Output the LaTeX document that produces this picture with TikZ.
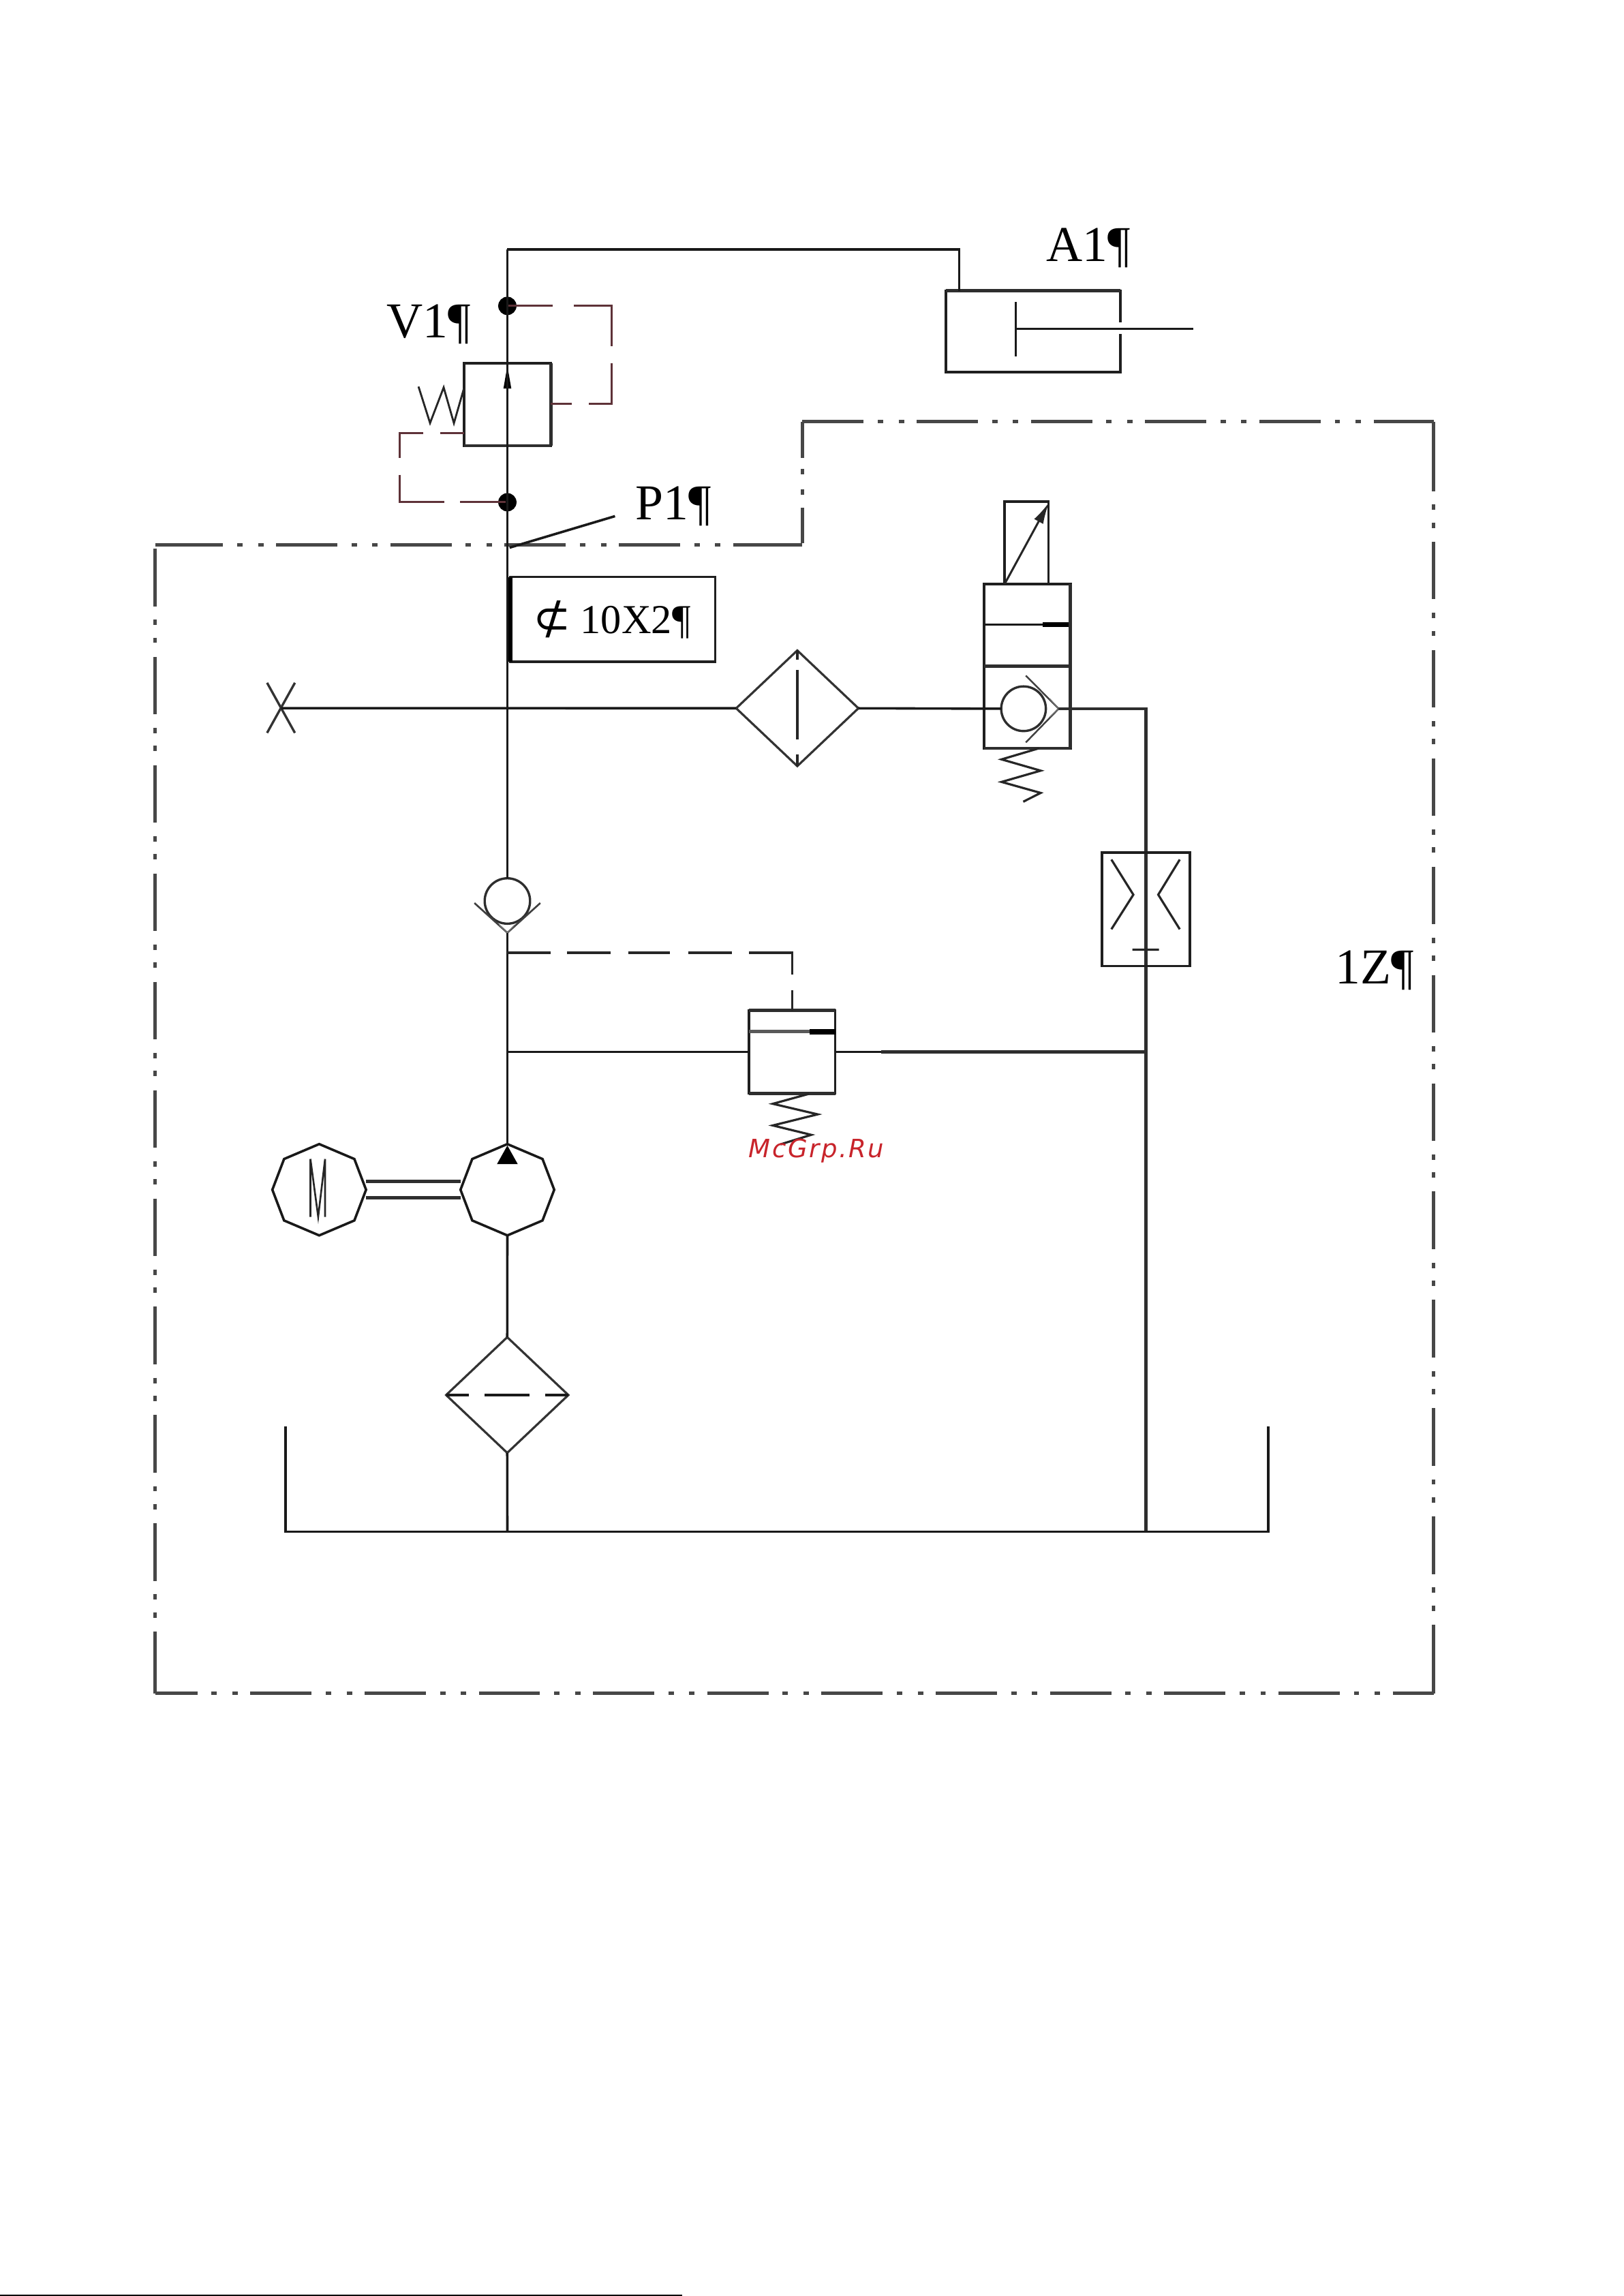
\documentclass[tikz,border=0pt]{standalone}
\usepackage{fontspec}
\setmainfont{Liberation Serif}
\newfontfamily\symfont{DejaVu Sans}
\newfontfamily\wmfont[LetterSpace=7]{DejaVu Sans}
\usetikzlibrary{shapes.geometric,arrows.meta}
\definecolor{pilot}{HTML}{5E3238}
\definecolor{wmred}{HTML}{C8242B}
\tikzset{
  ln/.style={line width=.95pt,color=black!90,line join=miter},
  hv/.style={line width=1.25pt,color=black!82},
  thin ln/.style={line width=.75pt,color=black!85},
  bord/.style={line width=1.35pt,color=black!72},
  bx/.style={rectangle,draw=black!88,line width=1pt,inner sep=0pt,outer sep=0pt},
  filt/.style={diamond,draw=black!80,line width=.85pt,inner sep=0pt,outer sep=0pt,minimum width=1.67cm,minimum height=1.58cm},
  ball/.style={circle,draw=black!82,line width=.9pt,inner sep=0pt,outer sep=0pt,fill=white},
  lab/.style={anchor=base west,inner sep=0pt,outer sep=0pt,font=\fontsize{19.5}{22}\selectfont,text=black},
  jn/.style={circle,fill=black,inner sep=0pt,outer sep=0pt,minimum size=.25cm},
  octa/.pic={\draw[ln] (0,-31.2) -- (24,-21) -- (32,0) -- (24,21) -- (0,31.2) -- (-24,21) -- (-32,0) -- (-24,-21) -- cycle;}
}
\begin{document}
\begin{tikzpicture}[x=.02cm,y=-.02cm]
\useasboundingbox (0,0) rectangle (1109,1568);
\fill[white] (0,0) rectangle (1109,1568);
% page artefact
\coordinate (pgL) at (0,1567.4); \coordinate (pgR) at (466,1567.4);
\draw[line width=.5pt,black] (pgL) -- (pgR);
% enclosure 1Z
\coordinate (e1) at (106,372); \coordinate (e2) at (548,372); \coordinate (e3) at (548,288);
\coordinate (e4) at (979,288); \coordinate (e5) at (979,1156.5); \coordinate (e6) at (106,1156.5);
\coordinate (e2b) at (501,372); \coordinate (e4b) at (979,296); \coordinate (e5b) at (979,1147); \coordinate (e6b) at (106,1152); \coordinate (e1b) at (110.6,372);
\draw[bord,dash pattern=on 23.8pt off 5.5pt on 2.1pt off 6pt on 2.1pt off 4.9pt,dash phase=41.8pt] (e1) -- (e2);
\draw[bord] (e1) -- (e1b) (e2b) -- (e2);
\draw[bord,dash pattern=on 14pt off 4.3pt on 2.1pt off 5.8pt on 2.1pt off 5pt on 14pt off 40pt] (e3) -- (e2);
\draw[bord,dash pattern=on 23.8pt off 5.5pt on 2.1pt off 6pt on 2.1pt off 4.9pt] (e3) -- (e4);
\draw[bord,dash pattern=on 22.4pt off 5.2pt on 2.1pt off 4.9pt on 2.1pt off 5.4pt] (e4b) -- (e5);
\draw[bord] (e4) -- (e4b) (e5b) -- (e5);
\draw[bord,dash pattern=on 23.8pt off 5.5pt on 2.1pt off 6pt on 2.1pt off 4.9pt,dash phase=7.4pt] (e6) -- (e5);
\draw[bord,dash pattern=on 22.4pt off 5.2pt on 2.1pt off 4.9pt on 2.1pt off 5.4pt,dash phase=40.6pt] (e1) -- (e6);
\draw[bord] (e6b) -- (e6);
% main pipe coordinates
\coordinate (top) at (346.5,170.4);
\coordinate (topR) at (655,170.4);
\coordinate (tankM) at (346.5,1046);
\coordinate (tankR) at (782.5,1046);
\coordinate (tankTL) at (195,974); \coordinate (tankBL) at (195,1046);
\coordinate (tankBR) at (866,1046); \coordinate (tankTR) at (866,974);
% cylinder A1
\node[bx,minimum width=2.38cm,minimum height=1.108cm] (cyl) at (705.5,226.3) {};
\coordinate (cylIn) at (655,198.6);
\coordinate (pistT) at (693.7,206.4); \coordinate (pistB) at (693.7,243.6);
\coordinate (pistM) at (693.7,224.5); \coordinate (rodE) at (814.8,224.5);
\coordinate (gapT) at (765,220); \coordinate (gapB) at (765,228);
\draw[white,line width=1.8pt] (gapT) -- (gapB);
\draw[hv] (cyl.north west) -- (cyl.north east);
\draw[ln] (pistT) -- (pistB);
\draw[ln] (pistM) -- (rodE);
\draw[ln] (top) -- (topR) -- (cylIn);
% valve V1
\node[bx,minimum width=1.188cm,minimum height=1.13cm] (v1) at (346.5,276.2) {};
\draw[hv] (v1.south west) -- (v1.south east) (v1.south east) -- (v1.north east);
\node[jn] (j1) at (346.5,208.9) {};
\node[jn] (j2) at (346.5,343) {};
\coordinate (pT1) at (417.7,208.9); \coordinate (pT2) at (417.7,275.6); \coordinate (pTe) at (376.2,275.6);
\draw[line width=.8pt,pilot,dash pattern=on 17.6pt off 8.2pt on 30.4pt off 6.5pt on 24.7pt off 6.5pt on 8.2pt off 30pt] (j1.center) -- (pT1) -- (pT2) -- (pTe);
\coordinate (pB0) at (316.8,295.6); \coordinate (pB1) at (272.9,295.6); \coordinate (pB2) at (272.9,343);
\draw[line width=.8pt,pilot,dash pattern=on 9.3pt off 6.5pt on 19pt off 6.5pt on 28.1pt off 6pt on 17.8pt off 30pt] (pB0) -- (pB1) -- (pB2) -- (j2.center);
\coordinate (sA) at (285.8,264); \coordinate (sB) at (293.7,288.9); \coordinate (sC) at (303,264.6); \coordinate (sD) at (310,289); \coordinate (sE) at (316.8,265.4);
\draw[thin ln] (sA) -- (sB) -- (sC) -- (sD) -- (sE);
\coordinate (tipA) at (346.5,249.8); \coordinate (tipB) at (343.8,265.4); \coordinate (tipC) at (349.2,265.4);
\fill[black] (tipA) -- (tipB) -- (tipC) -- cycle;
% labels
\node[lab] (a1) at (714.6,178.5) {A1¶};
\node[lab] (v1l) at (264,230.7) {V1¶};
\node[lab] (p1l) at (434,354.8) {P1¶};
\node[lab] (z1) at (912,672) {1Z¶};
\coordinate (ldA) at (348,374); \coordinate (ldB) at (420,352.5);
\draw[ln] (ldA) -- (ldB);
% pipe size box
\node[bx,minimum width=2.8cm,minimum height=1.16cm] (pbox) at (418.5,423) {};
\draw[line width=1.6pt,black] (pbox.north west) -- (pbox.south west);
\node[anchor=base west,inner sep=0pt,font=\fontsize{16}{20}\selectfont,text=black] (ptxt) at (364,432.7) {{\symfont\fontsize{17.5}{20}\selectfont ⊄}\hspace{3.6pt}10X2¶};
% X vent line and filter 1
\coordinate (xA) at (182.4,466.3); \coordinate (xB) at (201.4,500.5); \coordinate (xC) at (201.4,466.3); \coordinate (xD) at (182.4,500.5);
\coordinate (xM) at (192,483.6);
\draw[line width=.9pt,black!80] (xA) -- (xB) (xC) -- (xD);
\node[filt] (f1) at (544.5,483.7) {};
\draw[ln] (xM) -- (f1.west);
\draw[line width=.85pt,black!85,dash pattern=on 3.7pt off 3.9pt on 27pt off 5.7pt on 5pt off 30pt] (f1.north) -- (f1.south);
% directional valve
\node[bx,minimum width=1.18cm,minimum height=2.24cm] (dv) at (701.5,455) {};
\node[bx,minimum width=.6cm,minimum height=1.13cm,line width=.85pt] (sol) at (701,370.8) {};
\coordinate (dvL1) at (672,426.5); \coordinate (dvR1) at (731,426.5); \coordinate (dvB1) at (712,426.5);
\coordinate (dvL2) at (672,455); \coordinate (dvR2) at (731,455);
\draw[ln] (dvL1) -- (dvR1);
\draw[line width=2pt,black] (dvB1) -- (dvR1);
\draw[hv] (dvL2) -- (dvR2);
\draw[hv] (dv.north east) -- (dv.south east) (dv.south west) -- (dv.south east);
\coordinate (arA) at (686,399); \coordinate (arB) at (716.5,343);
\draw[line width=.8pt,black!85,-{Latex[length=8.5pt,width=4pt]}] (arA) -- (arB);
\node[ball,minimum size=.61cm] (b1) at (699,484) {};
\draw[ln] (f1.east) -- (b1.west);
\coordinate (c1a) at (700.6,461.4); \coordinate (c1t) at (723,484); \coordinate (c1b) at (700.6,507);
\coordinate (c1c) at (717,477.3); \coordinate (c1d) at (717,489.6);
\draw[line width=.65pt,black!75] (c1a) -- (c1t) -- (c1b);
\draw[line width=.4pt,black!55] (c1c) -- (c1t) -- (c1d);
\coordinate (rc) at (782.5,484);
\draw[hv] (c1t) -- (rc) -- (tankR);
\coordinate (ss0) at (709.6,511); \coordinate (ss1) at (684,518.6); \coordinate (ss2) at (710.7,526.3);
\coordinate (ss3) at (684,534); \coordinate (ss4) at (710.7,541.5); \coordinate (ss5) at (698.8,547.5);
\draw[line width=.85pt,black!85] (ss0) -- (ss1) -- (ss2) -- (ss3) -- (ss4) -- (ss5);
% orifice
\node[bx,minimum width=1.2cm,minimum height=1.55cm] (orf) at (782.5,621) {};
\coordinate (oa) at (759,587); \coordinate (ob) at (774,611); \coordinate (oc) at (759,634.6);
\coordinate (od) at (805.7,587); \coordinate (oe) at (791,611); \coordinate (of) at (805.7,634.6);
\coordinate (og) at (773.4,648.6); \coordinate (oh) at (791.5,648.6);
\draw[line width=.85pt,black!85] (oa) -- (ob) -- (oc) (od) -- (oe) -- (of) (og) -- (oh);
% check valve on main pipe
\node[ball,minimum size=.62cm] (b2) at (346.5,615.3) {};
\draw[ln] (top) -- (b2.north);
\coordinate (c2a) at (324,616.7); \coordinate (c2t) at (346.5,637); \coordinate (c2b) at (369,616.7);
\coordinate (c2c) at (341,631.7); \coordinate (c2d) at (351.5,631.7);
\draw[line width=.7pt,black!75] (c2a) -- (c2t) -- (c2b);
\draw[line width=.4pt,black!55] (c2c) -- (c2t) -- (c2d);
% pump and motor
\pic at (346.5,812.5) {octa};
\pic at (218,812.5) {octa};
\coordinate (pumpT) at (346.5,781.5); \coordinate (pumpB) at (346.5,843.7);
\draw[ln] (c2t) -- (pumpT);
\coordinate (tr1) at (346.5,782.3); \coordinate (tr2) at (339.4,795); \coordinate (tr3) at (353.6,795);
\fill[black] (tr1) -- (tr2) -- (tr3) -- cycle;
\coordinate (sh1a) at (250,806.8); \coordinate (sh1b) at (314.5,806.8);
\coordinate (sh2a) at (250,818); \coordinate (sh2b) at (314.5,818);
\draw[hv,line width=1.15pt] (sh1a) -- (sh1b);
\draw[hv,line width=1.15pt] (sh2a) -- (sh2b);
\coordinate (m1) at (212,831); \coordinate (m2) at (212,791.5); \coordinate (m3) at (217.3,831); \coordinate (m4) at (222,791.5); \coordinate (m5) at (222,831);
\draw[line width=.7pt,black!85] (m1) -- (m2) -- (m3) -- (m4) -- (m5);
% suction filter
\node[filt] (f2) at (346.4,952.7) {};
\draw[ln] (pumpB) -- (f2.north);
\draw[line width=.95pt,black!90,dash pattern=on 8.8pt off 6.2pt on 17.4pt off 6.2pt on 9pt off 30pt] (f2.west) -- (f2.east);
\draw[ln] (f2.south) -- (tankM);
% tank
\draw[ln] (tankTL) -- (tankBL) -- (tankBR) -- (tankTR);
% relief valve
\node[bx,minimum width=1.176cm,minimum height=1.136cm] (rv) at (541,718.4) {};
\coordinate (rvL1) at (511.6,704.5); \coordinate (rvR1) at (570.4,704.5); \coordinate (rvB1) at (553,704.5);
\draw[hv,black!65] (rvL1) -- (rvR1);
\draw[line width=2.1pt,black] (rvB1) -- (rvR1);
\draw[hv] (rv.north west) -- (rv.north east) (rv.south west) -- (rv.south east);
\coordinate (dT) at (346.5,650.6); \coordinate (dC) at (541,650.6);
\draw[line width=1pt,black!85,dash pattern=on 16.7pt off 6.6pt on 16.9pt off 6.8pt on 16.3pt off 7.1pt on 16.8pt off 6.7pt on 25.4pt off 6pt on 8pt off 30pt] (dT) -- (dC) -- (rv.north);
\coordinate (jL) at (346.5,718.4);
\coordinate (jR) at (782.5,718.4);
\draw[ln] (jL) -- (rv.west);
\draw[ln] (rv.east) -- (jR);
\coordinate (jRb) at (602,718.4);
\draw[hv] (jRb) -- (jR);
\coordinate (rs0) at (552.5,747); \coordinate (rs1) at (527.8,753.8); \coordinate (rs2) at (558.4,761);
\coordinate (rs3) at (527.8,768.6); \coordinate (rs4) at (554,775); \coordinate (rs5) at (533,781.5);
\draw[line width=.85pt,black!85] (rs0) -- (rs1) -- (rs2) -- (rs3) -- (rs4) -- (rs5);
% watermark
\node[anchor=base west,inner sep=0pt,text=wmred,font={\wmfont\itshape\fontsize{9.8}{12}\selectfont}] (wm) at (511,790.4) {McGrp.Ru};
\end{tikzpicture}
\end{document}
